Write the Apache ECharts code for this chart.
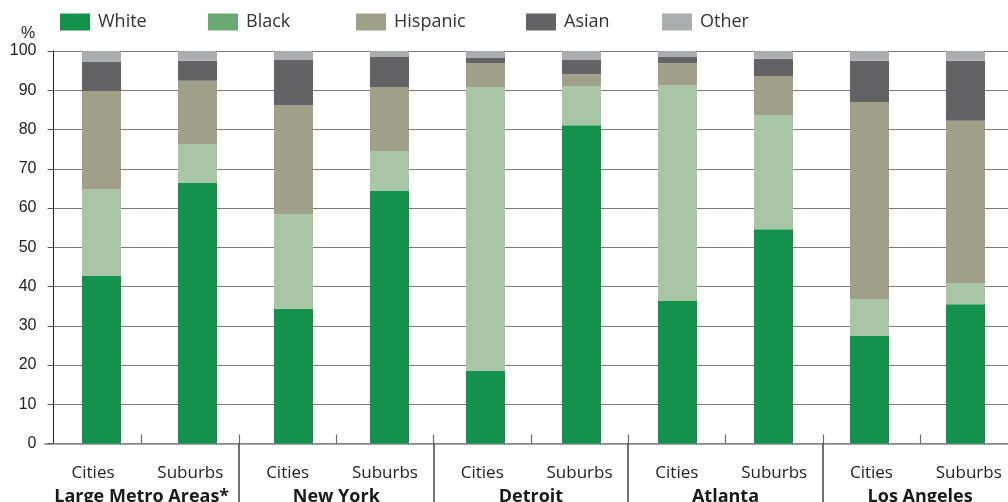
<!DOCTYPE html>
<html>
<head>
<meta charset="utf-8">
<script src="https://cdn.jsdelivr.net/npm/echarts@6/dist/echarts.min.js"></script>
<style>
  html, body { margin: 0; padding: 0; background: #fff; }
  #chart { width: 1008px; height: 502px; }
</style>
</head>
<body>
<div id="chart"></div>
<script>
// Racial/ethnic composition of cities and suburbs, percent of population
const places = ['Large Metro Areas*', 'New York', 'Detroit', 'Atlanta', 'Los Angeles'];
const areaLabels = ['Cities', 'Suburbs', 'Cities', 'Suburbs', 'Cities', 'Suburbs', 'Cities', 'Suburbs', 'Cities', 'Suburbs'];
const barIds = ['lma-c', 'lma-s', 'ny-c', 'ny-s', 'det-c', 'det-s', 'atl-c', 'atl-s', 'la-c', 'la-s'];

const white    = [42.7, 66.4, 34.3, 64.3, 18.5, 81.1, 36.3, 54.6, 27.4, 35.5];
const black    = [22.1,  9.9, 24.2, 10.2, 72.3, 10.0, 55.0, 29.1,  9.4,  5.4];
const hispanic = [25.0, 16.1, 27.7, 16.3,  6.1,  3.0,  5.6,  9.9, 50.2, 41.3];
const asian    = [ 7.4,  5.1, 11.5,  7.7,  1.3,  3.6,  1.6,  4.4, 10.5, 15.3];
const other    = [ 2.8,  2.5,  2.3,  1.5,  1.8,  2.3,  1.5,  2.0,  2.5,  2.5];

const yTicks = [0, 10, 20, 30, 40, 50, 60, 70, 80, 90, 100];

const seriesDefs = [
  { name: 'White',    data: white,    color: '#12924a', legendColor: '#12924a', left: 60 },
  { name: 'Black',    data: black,    color: '#a8c6a5', legendColor: '#6aaa72', left: 208 },
  { name: 'Hispanic', data: hispanic, color: '#a09f88', legendColor: '#a09f88', left: 356 },
  { name: 'Asian',    data: asian,    color: '#636365', legendColor: '#636365', left: 526 },
  { name: 'Other',    data: other,    color: '#acadb0', legendColor: '#acadb0', left: 662 }
];

const textFont = '"Open Sans", "DejaVu Sans", sans-serif';
const numFont = '"Liberation Sans", Arial, sans-serif';

const chart = echarts.init(document.getElementById('chart'), null, { renderer: 'canvas' });

chart.setOption({
  animation: false,
  backgroundColor: '#ffffff',
  title: {
    text: '%',
    left: 16,
    top: 21,
    textStyle: { fontFamily: numFont, fontSize: 16, fontWeight: 'normal', color: '#222' }
  },
  // one legend block per group so each swatch sits at its own spot
  legend: seriesDefs.map(s => ({
    left: s.left - 5,
    top: 8,
    itemWidth: 30,
    itemHeight: 17,
    icon: 'rect',
    selectedMode: false,
    textStyle: { fontFamily: textFont, fontSize: 18, lineHeight: 17, color: '#333', padding: [0, 0, 0, 3] },
    data: [{ name: s.name, itemStyle: { color: s.legendColor } }]
  })),
  grid: [
    { left: 53.5, right: -5.5, top: 51, bottom: 58.5, containLabel: false, outerBoundsMode: 'none' },
    { left: 44.4, right: -9.4, top: 51, bottom: 58.5, containLabel: false, outerBoundsMode: 'none' }
  ],
  xAxis: [
    {
      gridIndex: 0,
      type: 'category',
      data: barIds,
      axisLine: { show: false },
      axisTick: { show: false },
      axisLabel: { show: false },
      splitLine: { show: false }
    },
    {
      gridIndex: 1,
      type: 'category',
      position: 'bottom',
      data: areaLabels,
      axisLine: { show: true, lineStyle: { color: '#8a8a8a', width: 1.5 } },
      axisTick: {
        show: true, inside: true, length: 9,
        interval: (i) => i > 0,
        lineStyle: { color: '#666', width: 1.2 }
      },
      axisLabel: {
        interval: 0,
        margin: 21,
        fontFamily: textFont, fontSize: 17, color: '#222'
      }
    },
    {
      gridIndex: 1,
      type: 'category',
      position: 'bottom',
      data: places,
      axisLine: { show: false },
      axisTick: {
        show: true, inside: false, length: 62,
        interval: (i) => i > 0,
        lineStyle: { color: '#444', width: 1.5 }
      },
      axisLabel: {
        interval: 0,
        hideOverlap: false,
        margin: 44,
        fontFamily: textFont, fontSize: 18, fontWeight: 'bold', color: '#1a1a1a'
      }
    }
  ],
  yAxis: [
    {
      gridIndex: 0,
      type: 'value',
      min: yTicks[0],
      max: yTicks[yTicks.length - 1],
      interval: 10,
      axisLine: { show: true, lineStyle: { color: '#222', width: 1 } },
      axisTick: { show: true, length: 6, lineStyle: { color: '#555' } },
      axisLabel: { margin: 17, fontFamily: numFont, fontSize: 16, color: '#222' },
      splitLine: { show: true, lineStyle: { color: '#7a7a7a', width: 1.2 } }
    },
    {
      gridIndex: 1,
      type: 'value',
      min: 0,
      max: 100,
      show: false
    }
  ],
  series: seriesDefs.map(s => ({
    name: s.name,
    type: 'bar',
    stack: 'share',
    xAxisIndex: 0,
    yAxisIndex: 0,
    barWidth: 39,
    itemStyle: { color: s.color },
    emphasis: { disabled: true },
    data: s.data
  }))
});
</script>
</body>
</html>
